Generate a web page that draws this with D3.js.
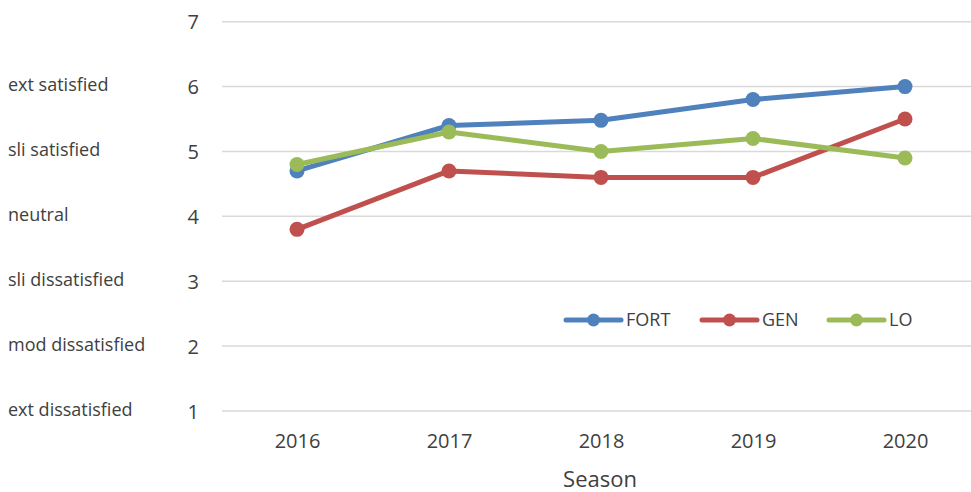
<!DOCTYPE html>
<html><head><meta charset="utf-8">
<script src="https://cdn.jsdelivr.net/npm/d3@7"></script>
<style>body{margin:0;background:#fff}svg{display:block}text{font-family:"Open Sans","Noto Sans",sans-serif;fill:#404040}</style>
</head><body>
<svg id="c" width="971" height="492"></svg>
<script>
const seasons = ["2016","2017","2018","2019","2020"];
const fort = [4.7, 5.4, 5.48, 5.8, 6.0];
const gen = [3.8, 4.7, 4.6, 4.6, 5.5];
const lo = [4.8, 5.3, 5.0, 5.2, 4.9];
const seriesNames = ["FORT","GEN","LO"];
const seriesColors = ["#4f81bd","#c0504d","#9bbb59"];
const yTicks = [1,2,3,4,5,6,7];
const scaleLabels = [[6,"ext satisfied"],[5,"sli satisfied"],[4,"neutral"],[3,"sli dissatisfied"],[2,"mod dissatisfied"],[1,"ext dissatisfied"]];

const svg = d3.select("#c");
const x = d3.scalePoint().domain(seasons).range([297, 905]);
const y = d3.scaleLinear().domain([1,7]).range([411, 21.7]);

svg.append("g").selectAll("line").data(yTicks).join("line")
  .attr("x1",222).attr("x2",971).attr("y1",d=>y(d)).attr("y2",d=>y(d))
  .attr("stroke","#d9d9d9").attr("stroke-width",1.5);

const yAxis = d3.axisLeft(y).tickValues(yTicks).tickSize(0).tickPadding(0).tickFormat(d3.format("d"));
const ya = svg.append("g").attr("transform","translate(199,0)").call(yAxis);
ya.select(".domain").remove();
ya.selectAll("text").attr("font-size",20).style("fill","#404040").attr("dy","0.35em").style("font-family","'Open Sans',sans-serif");

const xAxis = d3.axisBottom(x).tickSize(0).tickPadding(0);
const xa = svg.append("g").attr("transform","translate(0,441)").call(xAxis);
xa.select(".domain").remove();
xa.selectAll("text").attr("font-size",20).style("fill","#404040").attr("dy","0.35em").style("font-family","'Open Sans',sans-serif");

svg.append("text").attr("x",600).attr("y",479).attr("dy","0.35em").attr("text-anchor","middle")
  .attr("font-size",22).text("Season");

svg.append("g").selectAll("text").data(scaleLabels).join("text")
  .attr("x",8).attr("y",d=>y(d[0])-1).attr("dy","0.32em").attr("font-size",18)
  .text(d=>d[1]);

const all = [fort, gen, lo];
const line = d3.line().x((d,i)=>x(seasons[i])).y(d=>y(d));
all.forEach((vals,k)=>{
  const g = svg.append("g");
  g.append("path").datum(vals).attr("d",line).attr("fill","none")
    .attr("stroke",seriesColors[k]).attr("stroke-width",5).attr("stroke-linejoin","round").attr("stroke-linecap","round");
  g.selectAll("circle").data(vals).join("circle")
    .attr("cx",(d,i)=>x(seasons[i])).attr("cy",d=>y(d)).attr("r",7.5).attr("fill",seriesColors[k]);
});

const legX = [566, 702, 829];
seriesNames.forEach((n,k)=>{
  const g = svg.append("g").attr("transform",`translate(${legX[k]},320)`);
  g.append("line").attr("x1",0).attr("x2",55).attr("stroke",seriesColors[k]).attr("stroke-width",5).attr("stroke-linecap","round");
  g.append("circle").attr("cx",27.5).attr("r",6.5).attr("fill",seriesColors[k]);
  g.append("text").attr("x",60).attr("dy","0.35em").attr("font-size",18).text(n);
});
</script>
</body></html>
